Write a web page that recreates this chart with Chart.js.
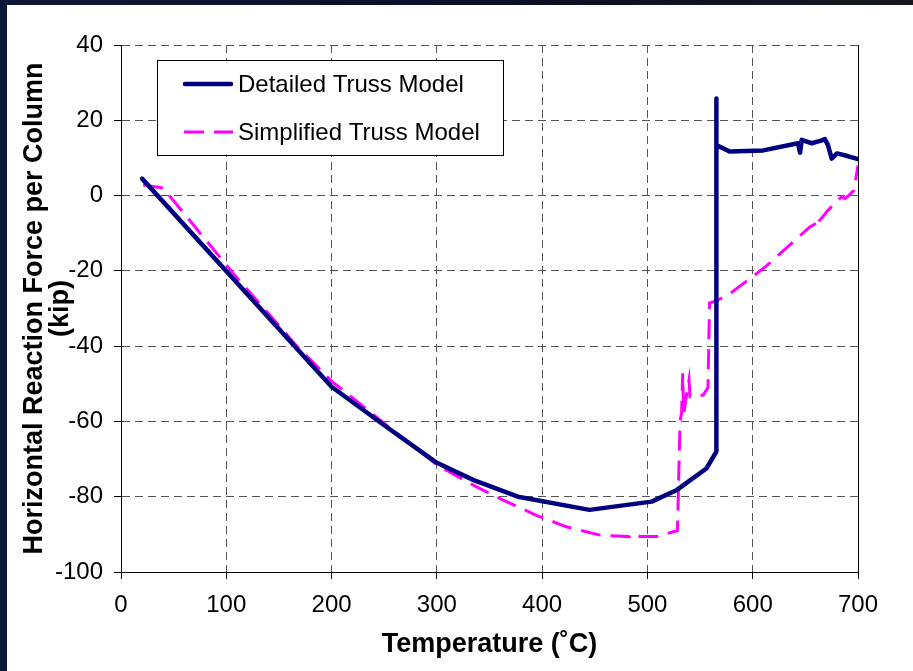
<!DOCTYPE html>
<html>
<head>
<meta charset="utf-8">
<script src="https://cdn.jsdelivr.net/npm/chart.js@4.4.1/dist/chart.umd.min.js"></script>
<style>
  html, body {
    margin: 0;
    padding: 0;
    width: 913px;
    height: 671px;
    overflow: hidden;
    background: linear-gradient(90deg, #0c1836 0%, #0a1026 55%, #16181d 100%);
  }
  #chart {
    position: absolute;
    left: 7px;
    top: 5px;
    background: #ffffff;
  }
</style>
</head>
<body>
<canvas id="chart" width="906" height="666"></canvas>
<script>
// temperatures (deg C) and horizontal reaction force (kip)
const detailedTemp = [20, 200, 250, 300, 335, 377, 445, 504, 528, 556, 565.5, 565.5, 565.5, 578, 610, 643, 645, 646.5, 656, 665, 668.5, 671.5, 675, 680, 690, 700];
const detailedForce = [4.5, -50.8, -61, -71, -75.6, -80, -83.5, -81.3, -78.2, -72.5, -68, 25.8, 13.4, 11.7, 12, 13.9, 11.4, 14.8, 13.9, 14.6, 15, 13.4, 9.8, 11.2, 10.5, 9.7];

const simplifiedTemp = [21, 40, 107, 167, 200, 250, 300, 335, 360, 395, 423, 455, 483, 486.5, 493, 509, 524.6, 528.5, 531, 532.5, 533.5, 534.5, 536, 539.5, 540.5, 553, 557.5, 559, 563, 577, 588, 602, 613, 638.5, 654, 660, 662, 663, 672, 681, 684.5, 687.5, 691, 696, 700];
const simplifiedForce = [2.8, 2, -20.8, -40, -49.3, -60.5, -71.5, -77, -80.5, -85, -88, -90.2, -90.6, -89.7, -90.6, -90.6, -89.3, -89, -60, -57.5, -47.2, -58, -55, -49, -53.5, -53, -51, -28.5, -28.2, -26.4, -24, -21.1, -18.7, -12.3, -8.4, -7.4, -8.4, -6.8, -3.8, -1.2, -0.3, -0.8, 0, 1.3, 8];

const seriesNames = ['Detailed Truss Model', 'Simplified Truss Model'];
const xTicks = [0, 100, 200, 300, 400, 500, 600, 700];
const yTicks = [40, 20, 0, -20, -40, -60, -80, -100];

const fontFamily = '"Liberation Sans", Arial, sans-serif';

function toPoints(xs, ys) {
    return xs.map((x, i) => ({x: x, y: ys[i]}));
}

// legend box drawn inside the plot area
const boxLegend = {
    id: 'boxLegend',
    afterDatasetsDraw(chart) {
        const ctx = chart.ctx;
        const left = 150, top = 55, w = 346, h = 95;
        ctx.save();
        ctx.fillStyle = '#ffffff';
        ctx.fillRect(left, top, w, h);
        ctx.strokeStyle = '#000000';
        ctx.lineWidth = 1;
        ctx.strokeRect(left + 0.5, top + 0.5, w, h);
        const rows = [79, 127];
        chart.data.datasets.forEach((ds, i) => {
            const y = rows[i];
            ctx.beginPath();
            ctx.strokeStyle = ds.borderColor;
            ctx.lineWidth = ds.borderWidth;
            ctx.setLineDash(ds.borderDash || []);
            ctx.lineCap = ds.borderCapStyle || 'butt';
            ctx.moveTo(i === 0 ? 178 : 177, y);
            ctx.lineTo(i === 0 ? 224 : 226, y);
            ctx.stroke();
            ctx.setLineDash([]);
            ctx.fillStyle = '#000000';
            ctx.font = '24px ' + fontFamily;
            ctx.textBaseline = 'middle';
            ctx.textAlign = 'left';
            ctx.fillText(ds.label, 231, y + 1);
        });
        ctx.restore();
    }
};

const ctx = document.getElementById('chart').getContext('2d');
const chart = new Chart(ctx, {
    type: 'line',
    data: {
        datasets: [
            {
                label: seriesNames[0],
                data: toPoints(detailedTemp, detailedForce),
                borderColor: '#000080',
                backgroundColor: '#000080',
                borderWidth: 4.5,
                borderCapStyle: 'round',
                borderJoinStyle: 'round',
                pointRadius: 0,
                tension: 0,
                fill: false
            },
            {
                label: seriesNames[1],
                data: toPoints(simplifiedTemp, simplifiedForce),
                borderColor: '#ff00ff',
                backgroundColor: '#ff00ff',
                borderWidth: 3,
                borderDash: [20, 10],
                borderCapStyle: 'butt',
                borderJoinStyle: 'miter',
                pointRadius: 0,
                tension: 0,
                fill: false
            }
        ]
    },
    options: {
        responsive: false,
        animation: false,
        devicePixelRatio: 1,
        layout: {
            padding: {left: 0, top: 40, right: 55, bottom: 0}
        },
        plugins: {
            legend: {display: false},
            tooltip: {enabled: false}
        },
        scales: {
            x: {
                type: 'linear',
                min: 0,
                max: 700,
                afterFit: (scale) => { scale.height = 99; },
                afterBuildTicks: (scale) => { scale.ticks = xTicks.map(v => ({value: v})); },
                ticks: {
                    color: '#000000',
                    padding: 12,
                    maxRotation: 0,
                    font: {family: fontFamily, size: 24, lineHeight: 1.2}
                },
                grid: {
                    color: '#555555',
                    lineWidth: 1,
                    tickLength: 7,
                    tickColor: '#000000',
                    tickBorderDash: [],
                    tickWidth: 1
                },
                border: {
                    display: true,
                    color: '#000000',
                    width: 1,
                    dash: [8, 5]
                },
                title: {
                    display: true,
                    text: 'Temperature (˚C)',
                    color: '#000000',
                    padding: {top: 0, bottom: 13},
                    font: {family: fontFamily, size: 27, weight: 'bold', lineHeight: '26px'}
                }
            },
            y: {
                type: 'linear',
                min: -100,
                max: 40,
                afterFit: (scale) => { scale.width = 114; },
                afterBuildTicks: (scale) => { scale.ticks = yTicks.map(v => ({value: v})); },
                ticks: {
                    color: '#000000',
                    padding: 11,
                    font: {family: fontFamily, size: 24, lineHeight: 1.2}
                },
                grid: {
                    color: '#555555',
                    lineWidth: 1,
                    tickLength: 7,
                    tickColor: '#000000',
                    tickBorderDash: [],
                    tickWidth: 1
                },
                border: {
                    display: true,
                    color: '#000000',
                    width: 1,
                    dash: [8, 5]
                },
                title: {
                    display: true,
                    text: ['Horizontal Reaction Force per Column', '(kip)'],
                    color: '#000000',
                    padding: {top: 15, bottom: 0},
                    font: {family: fontFamily, size: 27, weight: 'bold', lineHeight: '26px'}
                }
            },
            edge: {
                type: 'linear',
                position: 'right',
                min: -100,
                max: 40,
                afterFit: (scale) => { scale.width = 0; },
                ticks: {display: false},
                grid: {display: false, drawTicks: false},
                border: {display: true, color: '#000000', width: 1}
            }
        }
    },
    plugins: [boxLegend]
});
</script>
</body>
</html>
